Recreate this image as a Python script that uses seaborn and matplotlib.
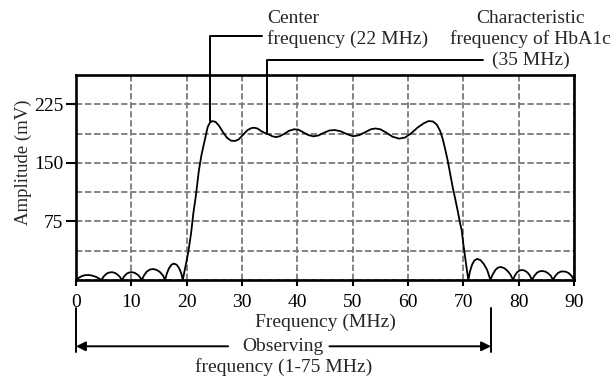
import numpy as np
import pandas as pd
import matplotlib
matplotlib.use("Agg")
import matplotlib.pyplot as plt
import seaborn as sns
from matplotlib.ticker import MultipleLocator

# ---- data ----
freq = [0, 0.5, 1.0, 1.6, 2.3, 3.0, 3.6, 4.1, 4.6,
        5.0, 5.5, 6.0, 6.5, 7.0, 7.5, 7.9, 8.3,
        8.7, 9.2, 9.7, 10.1, 10.6, 11.1, 11.5, 11.9,
        12.3, 12.8, 13.4, 14.0, 14.6, 15.2, 15.7, 16.1,
        16.4, 16.8, 17.3, 17.7, 18.2, 18.6, 19.0, 19.3,
        20.0, 20.3, 20.8, 21.2, 21.7, 22.2, 22.7, 23.3, 23.8, 24.2, 24.6,
        25.2, 25.8, 26.5, 27.3, 28.0, 28.7, 29.4, 30.2, 31.0, 31.7, 32.2,
        32.8, 33.5, 34.2, 34.8, 35.5, 36.1, 36.8, 37.6, 38.5, 39.4, 40.2,
        41.1, 42.0, 42.9, 43.8, 44.8, 45.8, 46.8, 47.8, 48.9, 50.1, 51.2,
        52.3, 53.3, 54.1, 55.0, 56.0, 57.2, 58.4, 59.5, 60.6, 61.7, 62.8,
        63.7, 64.5, 65.2, 65.8, 66.3, 66.8, 67.2, 67.7, 68.1, 68.5, 69.0,
        69.4, 69.7, 70.0, 70.3, 70.6, 70.9,
        71.2, 71.6, 72.0, 72.5, 73.1, 73.7, 74.3, 74.9,
        75.3, 75.8, 76.3, 76.8, 77.4, 78.0, 78.5, 79.0,
        79.3, 79.7, 80.2, 80.6, 81.1, 81.6, 82.0, 82.4,
        82.8, 83.3, 83.8, 84.3, 84.8, 85.3, 85.8, 86.2,
        86.6, 87.1, 87.6, 88.1, 88.6, 89.1, 89.6, 90.0]
amp = [0, 2.8, 4.8, 6.2, 6.4, 5.5, 4.0, 2.2, 0,
       4.5, 8.0, 9.6, 10.0, 9.2, 7.0, 4.2, 0,
       4.6, 8.3, 9.8, 10.0, 9.2, 7.0, 4.2, 0,
       6.0, 10.8, 13.5, 14.0, 12.8, 10.0, 6.0, 0,
       8.0, 15.0, 19.8, 21.0, 19.5, 15.5, 9.0, 0,
       25, 36, 60, 85, 110, 140, 161, 180, 196, 201.5, 203.5,
       202.5, 198, 190, 182, 178.5, 178, 180, 186, 192, 194.5, 195,
       194, 190.5, 188, 186.5, 184, 183, 184, 187, 191, 193, 192.5,
       189, 185.5, 184, 185, 188.5, 191.5, 192, 190.5, 187, 184, 185.5,
       189.5, 193, 194, 193, 189, 183.5, 181, 182.5, 188, 195, 200.5,
       203.5, 203, 199, 191, 180, 165, 152, 133, 118, 105, 88,
       73, 64, 46, 30, 15, 0,
       11, 20, 25, 27, 25.5, 20.5, 13, 0,
       7, 13, 16, 16.6, 15.2, 11.5, 7, 0,
       5.5, 9.8, 12.3, 12.8, 12.0, 9.5, 6.0, 0,
       5.0, 9.3, 11.2, 11.5, 10.8, 8.7, 5.5, 0,
       5.0, 9.0, 10.7, 11.0, 10.4, 8.5, 5.0, 0]
x_ticks = [0, 10, 20, 30, 40, 50, 60, 70, 80, 90]
y_ticks = [75, 150, 225]
center_freq = 24.3      # marker position of the centre-frequency callout
hba1c_freq = 34.6       # marker position of the HbA1c callout
observe_range = [0, 75]

df = pd.DataFrame({"Frequency": freq, "Amplitude": amp})

sns.set_style("white")
plt.rcParams["font.family"] = ["Liberation Serif", "DejaVu Serif"]

FS = 14
fig = plt.figure(figsize=(6.15, 3.8), dpi=100)
ax = fig.add_axes([76 / 615, 100 / 380, (574 - 76) / 615, (280 - 75) / 380])

sns.lineplot(data=df, x="Frequency", y="Amplitude", ax=ax, color="black",
             linewidth=1.3, sort=False, zorder=3)

ax.set_xlim(0, 90)
ax.set_ylim(0, 262.5)
ax.set_xticks(x_ticks)
ax.set_yticks(y_ticks)
ax.yaxis.set_minor_locator(MultipleLocator(37.5))
ax.tick_params(axis="y", which="minor", length=0)
ax.tick_params(axis="both", which="major", direction="out",
               width=1.5, color="black", labelsize=FS, labelcolor="black")
ax.tick_params(axis="x", bottom=True, length=4, pad=6)
ax.tick_params(axis="y", left=True, length=7, pad=2)
ax.grid(True, which="both", color="#7a7a7a", linestyle=(0, (3.5, 1.5)), linewidth=1.3)
ax.set_axisbelow(True)
for s in ax.spines.values():
    s.set_visible(True)
    s.set_color("black")
    s.set_linewidth(1.9)

ax.set_xlabel("Frequency (MHz)", fontsize=FS, labelpad=2)
ax.set_ylabel("Amplitude (mV)", fontsize=13.5)
ax.yaxis.set_label_coords(-0.088, 0.573)

# callouts
lk = dict(color="black", linewidth=1.4, clip_on=False, zorder=4)
ax.plot([center_freq, center_freq, 33.6], [203.5, 312.8, 312.8], **lk)
ax.text(34.6, 321, "Center\nfrequency (22 MHz)", fontsize=FS,
        ha="left", va="center", linespacing=1.2)
ax.plot([hba1c_freq, hba1c_freq, 73.5], [187, 282, 282], **lk)
ax.text(82.2, 308, "Characteristic\nfrequency of HbA1c\n(35 MHz)", fontsize=FS,
        ha="center", va="center", linespacing=1.28)

# observing range arrow
y_arrow = -84.9
ax.plot([observe_range[0]] * 2, [-36, -92.6], **lk)
ax.plot([observe_range[1]] * 2, [-36, -92.6], **lk)
ax.annotate("", xy=(observe_range[0], y_arrow), xytext=(27.5, y_arrow),
            xycoords="data", textcoords="data", annotation_clip=False,
            arrowprops=dict(arrowstyle="-|>", color="black", lw=1.4,
                            mutation_scale=14, shrinkA=0, shrinkB=0))
ax.annotate("", xy=(observe_range[1], y_arrow), xytext=(45.8, y_arrow),
            xycoords="data", textcoords="data", annotation_clip=False,
            arrowprops=dict(arrowstyle="-|>", color="black", lw=1.4,
                            mutation_scale=14, shrinkA=0, shrinkB=0))
ax.text(37.3, y_arrow, "Observing", fontsize=FS, ha="center", va="center")
ax.text(37.5, -111, "frequency (1-75 MHz)", fontsize=FS, ha="center", va="center")

fig.savefig("out.png", dpi=100)
